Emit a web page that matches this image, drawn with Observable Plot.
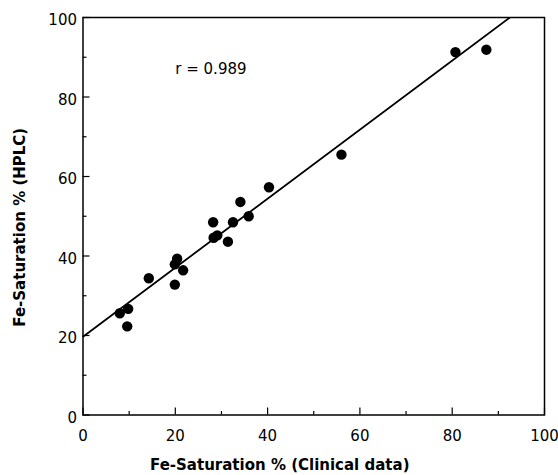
<!DOCTYPE html>
<html>
<head>
<meta charset="utf-8">
<script src="https://cdn.jsdelivr.net/npm/d3@7"></script>
<script src="https://cdn.jsdelivr.net/npm/@observablehq/plot@0.6"></script>
<style>
  html, body { margin: 0; padding: 0; background: #fff; }
  #chart { width: 558px; height: 475px; }
</style>
</head>
<body>
<div id="chart"></div>
<script>
// Data
const clinical = [7.97, 9.79, 9.58, 14.26, 19.9, 20.4, 19.9, 21.7, 28.2, 28.3, 29.1, 31.4, 32.5, 34.1, 35.9, 40.3, 56.0, 80.7, 87.4];
const hplc     = [25.6, 26.7, 22.3, 34.4, 32.8, 39.3, 37.9, 36.4, 48.5, 44.6, 45.2, 43.6, 48.5, 53.6, 50.0, 57.3, 65.5, 91.3, 91.9];

// Regression line endpoints
const fitX = [0, 92.5];
const fitY = [19.7, 100];

const majorTicks = [0, 20, 40, 60, 80, 100];
const minorTicks = [10, 30, 50, 70, 90];

const xLabel = "Fe-Saturation % (Clinical data)";
const yLabel = "Fe-Saturation % (HPLC)";
const annText = ["r = 0.989"];
const annX = [20.0];
const annY = [86.9];

const points = clinical.map((x, i) => ({x, y: hplc[i]}));
const fit = fitX.map((x, i) => ({x, y: fitY[i]}));
const ann = annText.map((t, i) => ({t, x: annX[i], y: annY[i]}));

const font = "'DejaVu Sans', 'Liberation Sans', Arial, sans-serif";

const chart = Plot.plot({
  width: 558,
  height: 475,
  marginLeft: 82.5,
  marginRight: 14,
  marginTop: 17,
  marginBottom: 60.5,
  style: {fontFamily: font, fontSize: "15px", color: "#000", background: "#fff"},
  x: {domain: [0, 100]},
  y: {domain: [0, 100]},
  marks: [
    Plot.frame({stroke: "#000", strokeWidth: 1.5}),
    // x axis labels; inward ticks drawn below
    Plot.axisX(majorTicks, {tickSize: 0, tickPadding: 15, fontSize: 15, label: null, tickFormat: d => d}),
    Plot.tickX(majorTicks, {x: d => d, insetTop: 390.5, stroke: "#000", strokeWidth: 1.2}),
    Plot.tickX(minorTicks, {x: d => d, insetTop: 394, stroke: "#000", strokeWidth: 1.2}),
    // y axis labels; inward ticks drawn below
    Plot.axisY(majorTicks, {tickSize: 0, tickPadding: 6, dy: 3, fontSize: 15, label: null, tickFormat: d => d}),
    Plot.tickY(majorTicks, {y: d => d, insetRight: 454.5, stroke: "#000", strokeWidth: 1.2}),
    Plot.tickY(minorTicks, {y: d => d, insetRight: 457.5, stroke: "#000", strokeWidth: 1.2}),
    // regression line
    Plot.line(fit, {x: "x", y: "y", stroke: "#000", strokeWidth: 1.8, clip: true}),
    // data points
    Plot.dot(points, {x: "x", y: "y", r: 5.2, fill: "#000", stroke: "none"}),
    // annotation
    Plot.text(ann, {x: "x", y: "y", text: "t", textAnchor: "start", fontSize: 15, fill: "#000"}),
    // axis titles
    Plot.text([xLabel], {frameAnchor: "bottom", textAnchor: "middle", lineAnchor: "middle", dx: -34, dy: 50, text: d => d, fontWeight: "bold", fontSize: 15, fill: "#000"}),
    Plot.text([yLabel], {frameAnchor: "left", textAnchor: "middle", lineAnchor: "middle", dx: -63, dy: 11, rotate: -90, text: d => d, fontWeight: "bold", fontSize: 15, fill: "#000"})
  ]
});

document.getElementById("chart").appendChild(chart);
</script>
</body>
</html>
